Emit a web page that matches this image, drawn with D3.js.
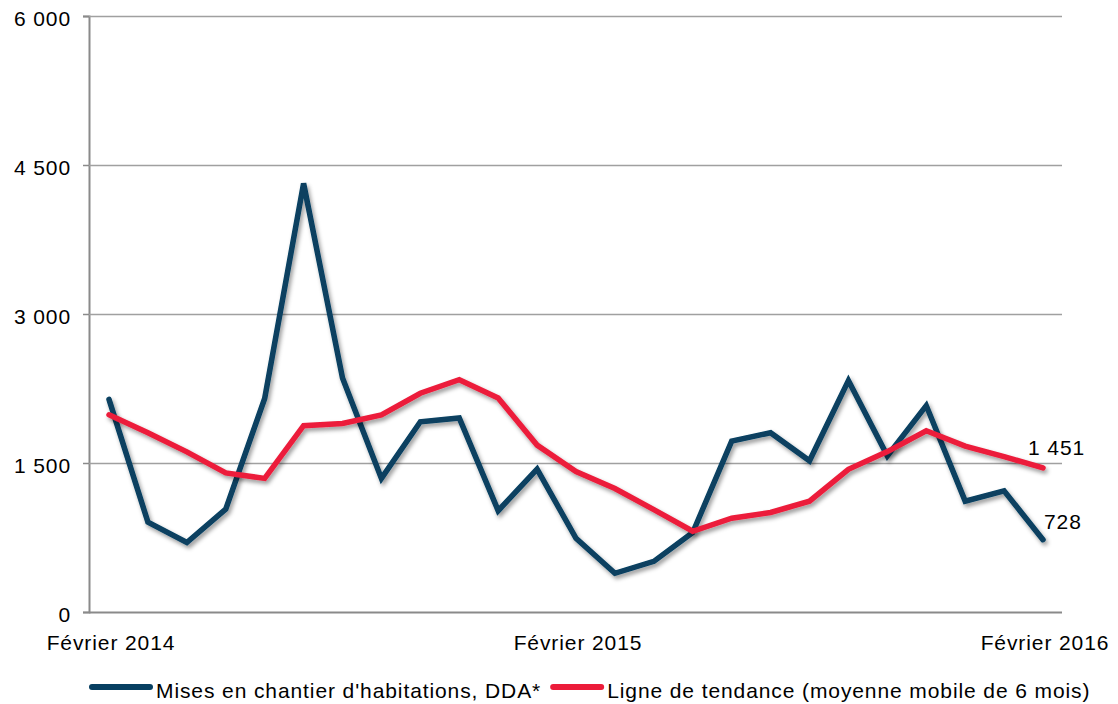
<!DOCTYPE html>
<html>
<head>
<meta charset="utf-8">
<script src="https://cdn.jsdelivr.net/npm/d3@7"></script>
<style>
  body { margin: 0; background: #fff; }
  text { font-family: "Liberation Sans", Arial, sans-serif; font-size: 21px; fill: #000; letter-spacing: 0.9px; }
</style>
</head>
<body>
<div id="chart"></div>
<script>
// monthly points, Feb 2014 -> Feb 2016
var months = ["2014-02","2014-03","2014-04","2014-05","2014-06","2014-07","2014-08","2014-09","2014-10","2014-11","2014-12",
  "2015-01","2015-02","2015-03","2015-04","2015-05","2015-06","2015-07","2015-08","2015-09","2015-10","2015-11","2015-12",
  "2016-01","2016-02"]
var mises = [2140, 905, 700, 1035, 2150, 4315, 2355, 1345, 1915, 1953, 1020, 1438, 742, 390, 510, 800,
  1720, 1805, 1522, 2330, 1572, 2078, 1116, 1220, 728]
var tendance = [1985, 1805, 1612, 1400, 1345, 1876, 1898, 1983, 2202, 2338, 2154, 1680, 1414, 1243, 1030, 813,
  944, 1002, 1115, 1436, 1615, 1825, 1670, 1565, 1451]
var yTicks = [0, 1500, 3000, 4500, 6000]
var xLabels = [{m: "2014-02", t: "Février 2014"}, {m: "2015-02", t: "Février 2015"}, {m: "2016-02", t: "Février 2016"}]
var seriesNames = ["Mises en chantier d'habitations, DDA*", "Ligne de tendance (moyenne mobile de 6 mois)"]

var width = 1118, height = 704
var blue = "#073f61", red = "#ec1c3a"
var fmt = d => d3.format(",")(d).replace(/,/g, " ")

var x = d3.scalePoint()
  .domain(months)
  .range([109, 1043])

var y = d3.scaleLinear()
  .domain([0, 6000])
  .range([612, 16])

var svg = d3.select("#chart").append("svg")
  .attr("width", width)
  .attr("height", height)

var defs = svg.append("defs")
defs.append("filter")
  .attr("id", "shadow")
  .attr("x", "-10%").attr("y", "-10%")
  .attr("width", "120%").attr("height", "130%")
  .append("feDropShadow")
  .attr("dx", 2).attr("dy", 3)
  .attr("stdDeviation", 2)
  .attr("flood-color", "#000")
  .attr("flood-opacity", 0.4)

// gridlines + y axis
var yAxis = g => g
  .attr("transform", "translate(89,0)")
  .call(d3.axisLeft(y).tickValues(yTicks).tickSize(6).tickFormat(fmt))
  .call(g => g.select(".domain").attr("stroke", "#8a8a8a").attr("stroke-width", 2))
  .call(g => g.selectAll(".tick line").attr("stroke", "#8a8a8a").attr("stroke-width", 1.5))
  .call(g => g.selectAll(".tick line").clone()
    .attr("x1", 0).attr("x2", 1062 - 89)
    .attr("stroke", (d) => d === 0 ? "#8a8a8a" : "#a0a0a0")
    .attr("stroke-width", d => d === 0 ? 2 : 1.5))
  .call(g => g.selectAll(".tick text")
    .attr("x", -18)
    .attr("dy", null)
    .attr("y", 9)
    .attr("font-family", null)
    .attr("font-size", null))

svg.append("g").call(yAxis)

// x labels
svg.append("g")
  .selectAll("text")
  .data(xLabels)
  .join("text")
  .attr("x", d => x(d.m) + 2)
  .attr("y", 650)
  .attr("text-anchor", "middle")
  .text(d => d.t)

var line = d3.line()
  .x((d, i) => x(months[i]))
  .y(d => y(d))

svg.append("path")
  .datum(mises)
  .attr("fill", "none")
  .attr("stroke", blue)
  .attr("stroke-width", 5.5)
  .attr("stroke-linejoin", "miter")
  .attr("stroke-linecap", "round")
  .attr("filter", "url(#shadow)")
  .attr("d", line)

svg.append("path")
  .datum(tendance)
  .attr("fill", "none")
  .attr("stroke", red)
  .attr("stroke-width", 5.5)
  .attr("stroke-linejoin", "miter")
  .attr("stroke-linecap", "round")
  .attr("filter", "url(#shadow)")
  .attr("d", line)

// end value labels
var last = months.length - 1
svg.append("text")
  .attr("x", x(months[last]) - 15)
  .attr("y", y(tendance[last]) - 13)
  .text(fmt(tendance[last]))

svg.append("text")
  .attr("x", x(months[last]) + 1)
  .attr("y", y(mises[last]) - 11)
  .text(fmt(mises[last]))

// legend
var legend = svg.append("g")
var lx = 92
seriesNames.forEach((name, i) => {
  var sw = i === 0 ? 58 : 48
  legend.append("line")
    .attr("x1", lx).attr("x2", lx + sw)
    .attr("y1", 687).attr("y2", 687)
    .attr("stroke", i === 0 ? blue : red)
    .attr("stroke-width", 6)
    .attr("stroke-linecap", "round")
  var t = legend.append("text")
    .attr("x", lx + sw + 6)
    .attr("y", 698)
    .text(name)
  lx = lx + sw + 6 + t.node().getComputedTextLength() + 12
})
</script>
</body>
</html>
